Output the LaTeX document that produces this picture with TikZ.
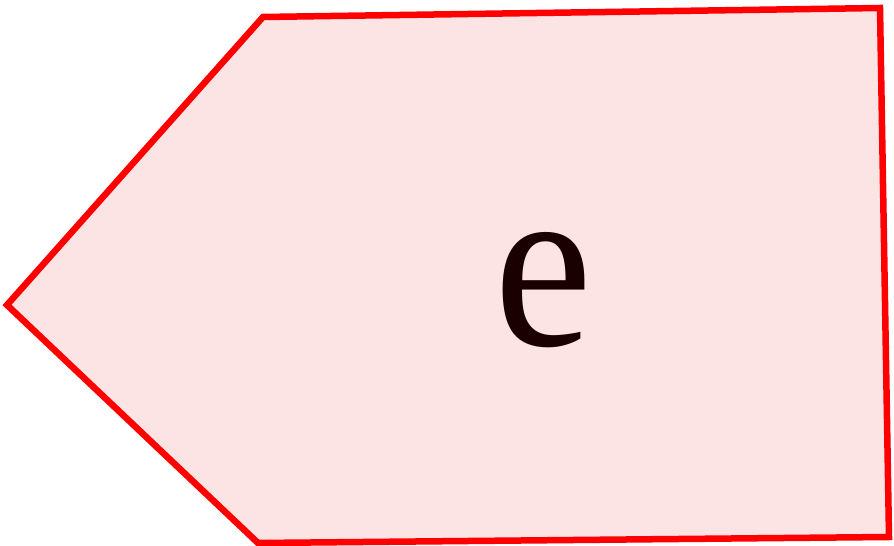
\documentclass[tikz,border=0pt]{standalone}
\usepackage{fontspec}
\setmainfont{Liberation Serif}
\definecolor{shapefill}{HTML}{FDE4E4}
\definecolor{shapeline}{HTML}{FF0000}
\definecolor{textcol}{HTML}{1A0000}
\begin{document}
\begin{tikzpicture}[x=1pt,y=1pt,
  shapestyle/.style={draw=shapeline,fill=shapefill,line width=6.5pt,line join=miter}]
\useasboundingbox (0,0) rectangle (894,546);
\coordinate (p1) at (263,529);
\coordinate (p2) at (880,538);
\coordinate (p3) at (889,9);
\coordinate (p4) at (258,3);
\coordinate (p5) at (7,241);
\path[shapestyle] (p1) -- (p2) -- (p3) -- (p4) -- (p5) -- cycle;
\node[text=textcol,inner sep=0pt,xscale=0.92,font=\fontsize{240}{240}\selectfont] (lbl) at (543,256) {e};
\end{tikzpicture}
\end{document}
